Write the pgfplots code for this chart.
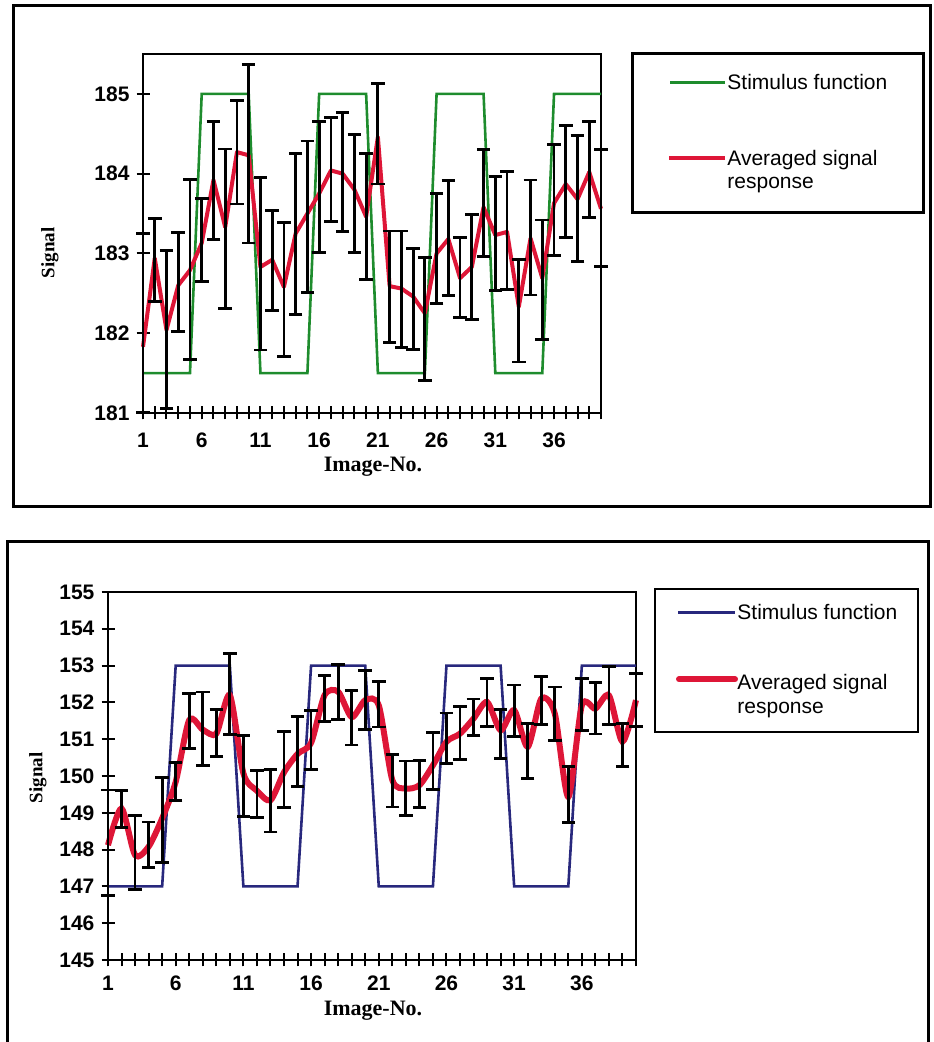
\documentclass[border=0pt]{standalone}
\usepackage{fontspec}
\setmainfont{Liberation Serif}
\setsansfont{Liberation Sans}
\usepackage{pgfplots}
\usepackage{pgfplotstable}
\pgfplotsset{compat=1.18}
\definecolor{stimgreen}{RGB}{30,140,45}
\definecolor{stimblue}{RGB}{40,40,125}
\definecolor{sigred}{RGB}{222,22,55}

\pgfplotstableread{
k r c e
1 181.83 182.13 1.12
2 182.94 182.92 0.52
3 182.04 182.05 0.99
4 182.60 182.64 0.62
5 182.79 182.80 1.13
6 183.13 183.17 0.52
7 183.92 183.91 0.74
8 183.33 183.31 1.00
9 184.27 184.27 0.65
10 184.23 184.25 1.12
11 182.83 182.87 1.08
12 182.92 182.91 0.63
13 182.58 182.55 0.84
14 183.25 183.24 1.01
15 183.50 183.46 0.95
16 183.75 183.83 0.82
17 184.04 184.05 0.65
18 184.00 184.02 0.75
19 183.80 183.75 0.74
20 183.46 183.46 0.79
21 184.46 184.50 0.63
22 182.59 182.58 0.70
23 182.56 182.55 0.73
24 182.46 182.43 0.63
25 182.25 182.18 0.77
26 183.00 183.06 0.69
27 183.18 183.19 0.72
28 182.69 182.70 0.50
29 182.83 182.83 0.66
30 183.58 183.63 0.67
31 183.23 183.25 0.71
32 183.27 183.29 0.74
33 182.33 182.28 0.64
34 183.19 183.20 0.72
35 182.69 182.67 0.75
36 183.63 183.67 0.70
37 183.87 183.90 0.70
38 183.68 183.69 0.79
39 184.02 184.05 0.60
40 183.56 183.57 0.73
}\topdata

\pgfplotstableread{
k r c e
1 148.12 148.19 1.43
2 149.12 149.10 0.51
3 147.85 147.92 1.00
4 148.08 148.13 0.62
5 148.85 148.80 1.15
6 149.84 149.85 0.52
7 151.52 151.50 0.75
8 151.26 151.28 1.00
9 151.15 151.17 0.63
10 152.19 152.23 1.10
11 150.07 150.01 1.10
12 149.60 149.52 0.64
13 149.34 149.33 0.85
14 150.10 150.17 1.03
15 150.60 150.67 0.95
16 150.90 150.98 0.80
17 152.20 152.10 0.63
18 152.29 152.28 0.75
19 151.60 151.58 0.74
20 152.06 152.06 0.80
21 151.92 151.95 0.62
22 149.89 149.87 0.71
23 149.66 149.67 0.74
24 149.75 149.78 0.64
25 150.29 150.41 0.77
26 150.93 151.02 0.69
27 151.15 151.16 0.72
28 151.56 151.59 0.50
29 152.01 152.00 0.65
30 151.24 151.14 0.66
31 151.79 151.77 0.70
32 150.79 150.68 0.75
33 152.10 152.06 0.65
34 151.70 151.69 0.73
35 149.43 149.50 0.76
36 151.92 151.94 0.71
37 151.83 151.84 0.70
38 152.19 152.19 0.78
39 150.93 150.84 0.59
40 152.06 152.06 0.72
}\botdata

\pgfplotsset{
  myaxis/.style={
    anchor=south west, scale only axis, clip=false,
    xmin=1, xmax=40,
    xtick={1,6,...,36}, minor xtick={1,...,40},
    tick align=center, major tick length=6.5pt, minor tick length=6.5pt,
    xtick pos=bottom, ytick pos=left,
    axis line style={line width=1pt},
    every tick/.style={black, line width=1pt},
    every minor tick/.style={black, line width=1pt},
    /pgf/number format/assume math mode=true,
    tick label style={font=\sffamily\bfseries\fontsize{10.5}{12}\selectfont},
  },
  errbars/.style={draw=none, mark=none, forget plot,
    error bars/.cd, y dir=both, y explicit,
    error bar style={draw=black, line width=1.4pt},
    error mark options={draw=black, line width=1.4pt, mark size=3.4pt, rotate=90}},
}

\begin{document}
\begin{tikzpicture}[x=0.5pt,y=0.5pt]
\useasboundingbox (0,0) rectangle (933,1042);
% frames
\draw[line width=1.5pt] (13,1036) rectangle (930,535);
\draw[line width=1.5pt] (7,-20) -- (7,500) -- (928,500) -- (928,-20);

% ---------- top chart ----------
\begin{axis}[myaxis, at={(71.5pt,314.5pt)}, width=229pt, height=179.5pt,
  ymin=181, ymax=185.5, ytick={181,...,185}, xticklabel style={yshift=-3pt}]
\addplot[stimgreen, line width=1.3pt] coordinates {(1,181.5)(5,181.5)(6,185)(10,185)(11,181.5)(15,181.5)(16,185)(20,185)(21,181.5)(25,181.5)(26,185)(30,185)(31,181.5)(35,181.5)(36,185)(40,185)};
\addplot[sigred, line width=2pt, line join=round] table[x=k, y=r] {\topdata};
\addplot[errbars] table[x=k, y=c, y error=e] {\topdata};
\end{axis}
\node[font=\bfseries\fontsize{11}{13}\selectfont, anchor=base] at (373,570) {Image-No.};
\node[font=\bfseries\fontsize{9.5}{11}\selectfont, rotate=90] at (50,789) {Signal};

% top legend
\draw[line width=1.5pt] (632,988) rectangle (923,829);
\draw[stimgreen, line width=1.3pt] (670,959.3) -- (725,959.3);
\node[font=\sffamily\fontsize{10.5}{12}\selectfont, anchor=base west, inner sep=0] at (727,952) {Stimulus function};
\draw[sigred, line width=2pt] (669,883.7) -- (725,883.7);
\node[font=\sffamily\fontsize{10.5}{12}\selectfont, anchor=base west, inner sep=0] at (727,876) {Averaged signal};
\node[font=\sffamily\fontsize{10.5}{12}\selectfont, anchor=base west, inner sep=0] at (727,853.7) {response};

% ---------- bottom chart ----------
\begin{axis}[myaxis, at={(54pt,41pt)}, width=264pt, height=184pt,
  ymin=145, ymax=155, ytick={145,...,155}, xticklabel style={yshift=-1pt}]
\addplot[stimblue, line width=1.3pt] coordinates {(1,147)(5,147)(6,153)(10,153)(11,147)(15,147)(16,153)(20,153)(21,147)(25,147)(26,153)(30,153)(31,147)(35,147)(36,153)(40,153)};
\addplot[sigred, line width=3pt, smooth, tension=0.45] table[x=k, y=r] {\botdata};
\addplot[errbars] table[x=k, y=c, y error=e] {\botdata};
\end{axis}
\node[font=\bfseries\fontsize{11}{13}\selectfont, anchor=base] at (373,26) {Image-No.};
\node[font=\bfseries\fontsize{9.5}{11}\selectfont, rotate=90] at (38,264) {Signal};

% bottom legend
\draw[line width=1pt] (655,453) rectangle (918,310);
\draw[stimblue, line width=1.3pt] (678,429.7) -- (735,429.7);
\node[font=\sffamily\fontsize{10.5}{12}\selectfont, anchor=base west, inner sep=0] at (737,422.7) {Stimulus function};
\draw[sigred, line width=3pt, line cap=round] (679,362.7) -- (735,362.7);
\node[font=\sffamily\fontsize{10.5}{12}\selectfont, anchor=base west, inner sep=0] at (737,352.7) {Averaged signal};
\node[font=\sffamily\fontsize{10.5}{12}\selectfont, anchor=base west, inner sep=0] at (737,328) {response};
\end{tikzpicture}
\end{document}
